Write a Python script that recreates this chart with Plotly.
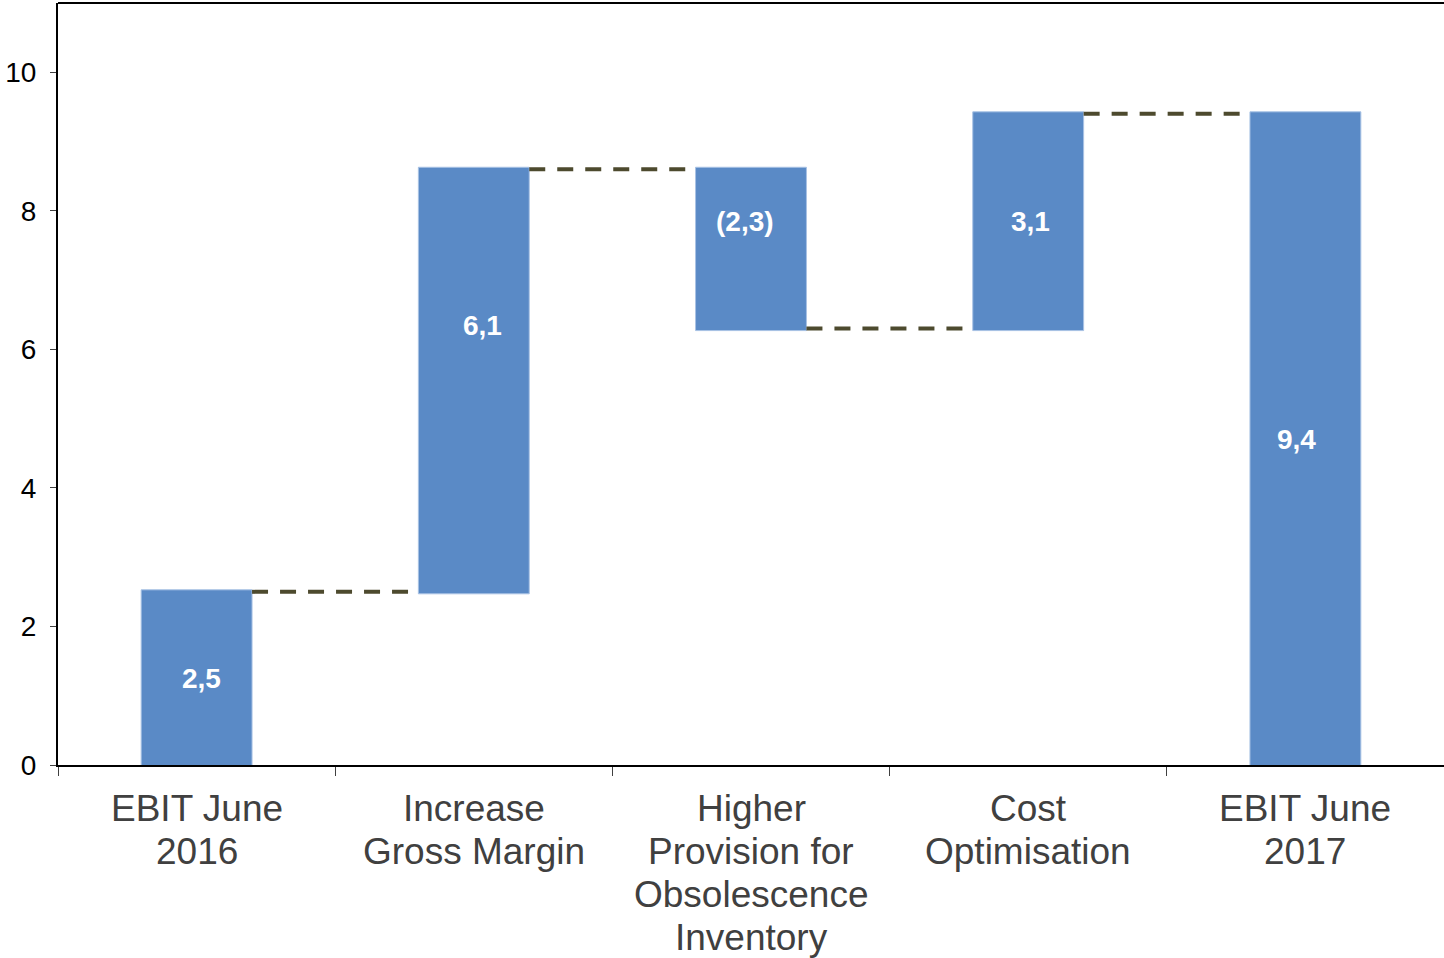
import plotly.graph_objects as go

categories = ["EBIT June<br>2016", "Increase<br>Gross Margin", "Higher<br>Provision for<br>Obsolescence<br>Inventory", "Cost<br>Optimisation", "EBIT June<br>2017"]
measures = ["absolute", "relative", "relative", "relative", "total"]
values = [2.5, 6.1, -2.3, 3.1, 9.4]
labels = ["2,5", "6,1", "(2,3)", "3,1", "9,4"]
label_frac = [0.5, 0.63, 0.67, 0.5, 0.5]
label_dx = [5, 9, -6, 2, -9]
y_ticks = [0, 2, 4, 6, 8, 10]

BAR = "#5a8ac6"
FONT = "Liberation Sans, Arial"

fig = go.Figure()
fig.add_trace(go.Waterfall(
    x=categories, y=[v if m != "total" else 0 for v, m in zip(values, measures)],
    measure=measures,
    increasing=dict(marker=dict(color=BAR, line=dict(color="#a8c2e4", width=1))),
    decreasing=dict(marker=dict(color=BAR, line=dict(color="#a8c2e4", width=1))),
    totals=dict(marker=dict(color=BAR, line=dict(color="#a8c2e4", width=1))),
    connector=dict(mode="between", line=dict(color="#4d4a2e", width=4, dash="16px,12px")),
    width=0.4, textinfo="none", hoverinfo="skip", showlegend=False,
))

# value labels
cum = 0
for i, (v, m) in enumerate(zip(values, measures)):
    if m == "absolute":
        lo, hi = 0, v
        cum = v
    elif m == "total":
        lo, hi = 0, cum
    else:
        lo, hi = min(cum, cum + v), max(cum, cum + v)
        cum += v
    fig.add_annotation(x=categories[i], y=lo + (hi - lo) * label_frac[i], text=f"<b>{labels[i]}</b>",
                       showarrow=False, xshift=label_dx[i], font=dict(family=FONT, size=28, color="white"))

# category labels (one annotation per line)
for cat in categories:
    for k, line in enumerate(cat.split("<br>")):
        fig.add_annotation(x=cat, xref="x", y=0, yref="paper", yanchor="middle", text=line,
                           showarrow=False, yshift=-43 - 43 * k,
                           font=dict(family=FONT, size=37, color="#404040"))

fig.add_shape(type="line", xref="paper", yref="paper", x0=0, x1=1, y0=1, y1=1,
              line=dict(color="black", width=2))

fig.update_layout(
    width=1444, height=958,
    margin=dict(l=58, r=0, t=3, b=193),
    plot_bgcolor="white", paper_bgcolor="white",
    font=dict(family=FONT, color="#404040"),
    xaxis=dict(type="category", tickson="boundaries", ticks="outside", ticklen=9, tickcolor="#404040",
               tickwidth=1, showline=True, linecolor="black", linewidth=2, showgrid=False,
               showticklabels=False),
    yaxis=dict(range=[0, 11], tickvals=y_ticks, ticks="outside", ticklen=6,
               tickcolor="#404040", showline=True, linecolor="black", linewidth=2, showgrid=False,
               zeroline=False, ticklabelstandoff=8, tickfont=dict(size=28, color="black")),
)

fig.write_html("out.html")
